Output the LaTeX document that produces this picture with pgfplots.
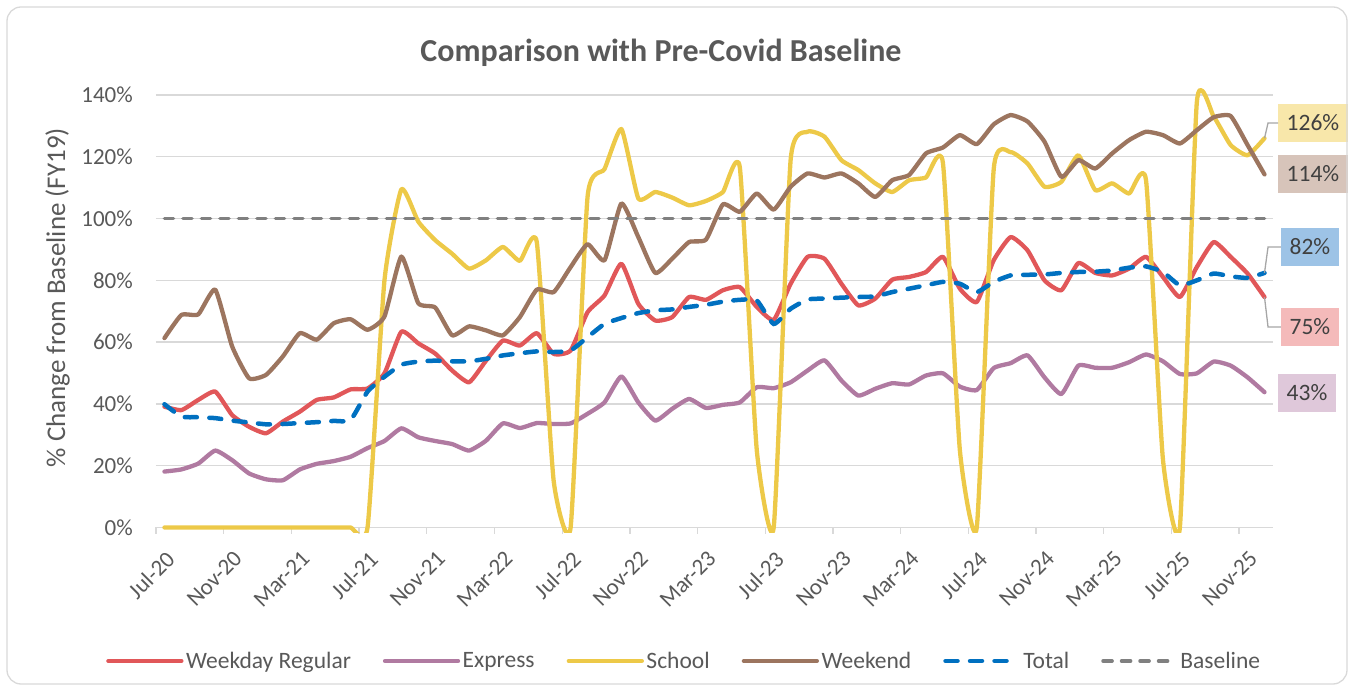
\documentclass[border=0pt]{standalone}
\usepackage{fontspec}
\setmainfont{Carlito}
\usepackage{pgfplots}
\pgfplotsset{compat=1.18}
\usepackage{pgfplotstable}
\definecolor{cred}{HTML}{E15759}
\definecolor{cpur}{HTML}{B07AA1}
\definecolor{cyel}{HTML}{EDC948}
\definecolor{cbrn}{HTML}{9C755F}
\definecolor{cblu}{HTML}{0070C0}
\definecolor{cgry}{HTML}{808080}
\definecolor{txt}{HTML}{595959}
\definecolor{dtxt}{HTML}{404040}
\definecolor{gridc}{HTML}{D9D9D9}
\definecolor{leader}{HTML}{A6A6A6}
\definecolor{lyel}{HTML}{F8E7AA}
\definecolor{lbrn}{HTML}{D7C4BA}
\definecolor{lblu}{HTML}{9DC3E6}
\definecolor{lred}{HTML}{F4BABA}
\definecolor{lpur}{HTML}{DFC8DA}

\pgfplotstableread{
i red pur yel brn blu
0 39.1 18.1 0 61.3 39.9
1 38.0 18.8 0 68.8 35.9
2 41.3 20.7 0 69.0 35.7
3 44.0 24.9 0 77.0 35.4
4 36.4 21.8 0 58.6 34.6
5 32.6 17.5 0 48.3 34.0
6 30.5 15.6 0 49.4 33.4
7 34.3 15.3 0 55.4 33.5
8 37.5 18.8 0 62.9 33.8
9 41.3 20.6 0 60.8 34.1
10 42.1 21.5 0 66.1 34.5
11 44.7 22.9 0 67.4 34.8
12 45.0 25.7 0 64.0 44.0
13 49.9 28.0 80 68.3 48.8
14 63.4 32.1 109.5 87.7 52.7
15 59.6 29.2 99 72.6 53.7
16 56.3 28.0 93 71.2 54.0
17 50.8 27.0 88.6 62.2 53.8
18 47.0 24.9 83.8 65.1 53.8
19 54.0 28.1 86.5 63.8 54.6
20 60.5 33.7 90.8 62.2 55.7
21 58.9 32.2 86.3 68.1 56.4
22 62.9 33.8 92.4 77.0 57.0
23 56.2 33.5 15 76.2 56.8
24 57.3 33.7 0 84.3 57.3
25 69.7 36.8 107 91.7 61.6
26 75.1 40.5 116 86.5 65.9
27 85.4 48.9 129 104.9 67.8
28 72.4 40.5 106.5 94.0 69.4
29 67.0 34.6 108.6 82.4 70.3
30 68.1 38.4 106.8 87.0 70.6
31 74.6 41.6 104.3 92.4 71.4
32 73.7 38.7 105.7 93.2 72.1
33 76.8 39.7 108.6 104.6 73.1
34 77.8 40.5 116.5 102.2 73.7
35 71.4 45.4 25 108.1 73.5
36 67.2 45.1 0 102.9 65.9
37 78.9 47.0 119 110.3 70.8
38 87.6 50.8 128.1 114.6 73.8
39 87.0 54.1 126.5 113.3 74.1
40 78.9 47.6 118.9 114.6 74.4
41 71.9 42.7 115.7 111.4 74.6
42 74.1 44.9 111.4 107.0 74.8
43 80.2 46.7 108.6 112.4 76.2
44 81.1 46.3 112.4 114.1 77.3
45 82.7 49.2 113.3 121.1 78.4
46 87.6 49.9 118 123.0 79.5
47 77.3 45.6 25 127.0 78.9
48 73.0 44.5 0 124.1 76.2
49 86.5 51.6 116 130.5 79.5
50 94.0 53.2 121.5 133.5 81.6
51 89.7 55.7 117.8 131.4 81.8
52 80.0 48.6 110.3 124.9 81.9
53 76.8 43.2 111.9 113.5 82.4
54 85.6 52.4 120.5 118.9 82.7
55 82.4 51.7 109.2 116.2 82.8
56 81.6 51.7 111.4 121.1 83.2
57 83.8 53.5 108.1 125.4 84.1
58 87.6 56.0 112.4 128.1 84.5
59 81.1 53.8 22 127.0 82.7
60 74.6 49.7 0 124.3 78.4
61 84.3 49.9 137.5 128.6 80.0
62 92.4 53.7 133 132.8 82.2
63 87.6 52.4 123.8 133.2 81.3
64 82.2 48.6 120.5 123.8 80.8
65 74.6 43.8 126 114.3 82.4
}\data

\begin{document}
\begin{tikzpicture}
\begin{axis}[
  scale only axis, width=1117pt, height=451.04pt,
  xmin=-0.5, xmax=65.5, ymin=-1.5, ymax=144.5,
  clip mode=individual,
  axis line style={draw=none},
  xtick={0,4,...,64},
  xticklabels={Jul-20,Nov-20,Mar-21,Jul-21,Nov-21,Mar-22,Jul-22,Nov-22,Mar-23,Jul-23,Nov-23,Mar-24,Jul-24,Nov-24,Mar-25,Jul-25,Nov-25},
  major x tick style={draw=none},
  ytick={0,20,...,140},
  major y tick style={draw=none},
  ymajorgrids, grid style={gridc, line width=1.3pt},
  yticklabel={\pgfmathprintnumber{\tick}\%},
  /pgf/number format/assume math mode=true,
  tick label style={font=\fontsize{23}{27}\selectfont, text=txt},
  yticklabel style={anchor=east, inner sep=0pt, xshift=-23pt},
  xticklabel style={rotate=45, anchor=north east, inner sep=0pt, xshift=-11.95pt, yshift=-12.65pt},
  ylabel={\% Change from Baseline (FY19)},
  every axis y label/.style={at={(axis description cs:-0.0882,0.5202)}, rotate=90, anchor=center, font=\fontsize{27}{31}\selectfont, text=txt},
  title={\bfseries Comparison with Pre-Covid Baseline},
  every axis title/.style={at={(axis description cs:0.4521,1.0445)}, anchor=base, font=\fontsize{32}{36}\selectfont, text=txt},
  legend columns=6,
  legend style={at={(axis description cs:0.4731,-0.2857)}, anchor=center, draw=none, fill=none,
    font=\fontsize{23.5}{27}\selectfont, text=txt,
    /tikz/every even column/.append style={column sep=29.5pt},
    inner sep=0pt, nodes={inner xsep=2.5pt, inner ysep=0pt}},
  legend cell align=left,
  legend image code/.code={\draw[#1] (0pt,0pt) -- (73pt,0pt);},
]
\pgfplotsinvokeforeach{-0.5,3.5,...,63.5}{\draw[gridc, line width=1.3pt] (axis cs:#1,0) -- ++(0pt,-7pt);}
\addplot[cred, line width=4.3pt, smooth, tension=0.3, line cap=round, line join=round] table[x=i,y=red]{\data};
\addlegendentry{Weekday Regular}
\addplot[cpur, line width=4.3pt, smooth, tension=0.3, line cap=round, line join=round] table[x=i,y=pur]{\data};
\addlegendentry{Express}
\addplot[cyel, line width=4.3pt, smooth, tension=0.3, line cap=round, line join=round] table[x=i,y=yel]{\data};
\addlegendentry{School}
\addplot[cbrn, line width=4.3pt, smooth, tension=0.3, line cap=round, line join=round] table[x=i,y=brn]{\data};
\addlegendentry{Weekend}
\addplot[cblu, line width=4.5pt, smooth, tension=0.3, line cap=round, dash pattern=on 12pt off 12.5pt] table[x=i,y=blu]{\data};
\addlegendentry{Total}
\addplot[cgry, line width=3.6pt, line cap=round, dash pattern=on 9pt off 9.5pt] coordinates {(0,100) (65,100)};
\addlegendentry{Baseline}

\node[fill=lyel, text=dtxt, font=\fontsize{23.5}{27}\selectfont, inner xsep=8.5pt, inner ysep=0pt, minimum height=38pt, anchor=west] (l126) at (axis cs:65.80,130.94) {126\%};
\node[fill=lbrn, text=dtxt, font=\fontsize{23.5}{27}\selectfont, inner xsep=8.5pt, inner ysep=0pt, minimum height=38pt, anchor=west] (l114) at (axis cs:65.80,114.43) {114\%};
\node[fill=lblu, text=dtxt, font=\fontsize{23.5}{27}\selectfont, inner xsep=8.5pt, inner ysep=0pt, minimum height=38pt, anchor=west] (l82) at (axis cs:65.97,90.8) {82\%};
\node[fill=lred, text=dtxt, font=\fontsize{23.5}{27}\selectfont, inner xsep=8.5pt, inner ysep=0pt, minimum height=38pt, anchor=west] (l75) at (axis cs:65.97,64.9) {75\%};
\node[fill=lpur, text=dtxt, font=\fontsize{23.5}{27}\selectfont, inner xsep=8.5pt, inner ysep=0pt, minimum height=38pt, anchor=west] (l43) at (axis cs:65.80,43.54) {43\%};
\draw[leader, line width=1.3pt] (axis cs:65,126) -- (axis cs:65.21,130.94) -- (l126.west);
\draw[leader, line width=1.3pt] (axis cs:65,82.4) -- (axis cs:65.21,90.8) -- (l82.west);
\draw[leader, line width=1.3pt] (axis cs:65,74.6) -- (axis cs:65.21,64.9) -- (l75.west);
\end{axis}
\draw[gridc, line width=1.3pt, rounded corners=14pt] (-149pt,-151.87pt) rectangle (1191pt,525.13pt);
\pgfresetboundingbox
\path[use as bounding box] (-156pt,-155.87pt) rectangle (1197pt,532.13pt);
\end{tikzpicture}
\end{document}
